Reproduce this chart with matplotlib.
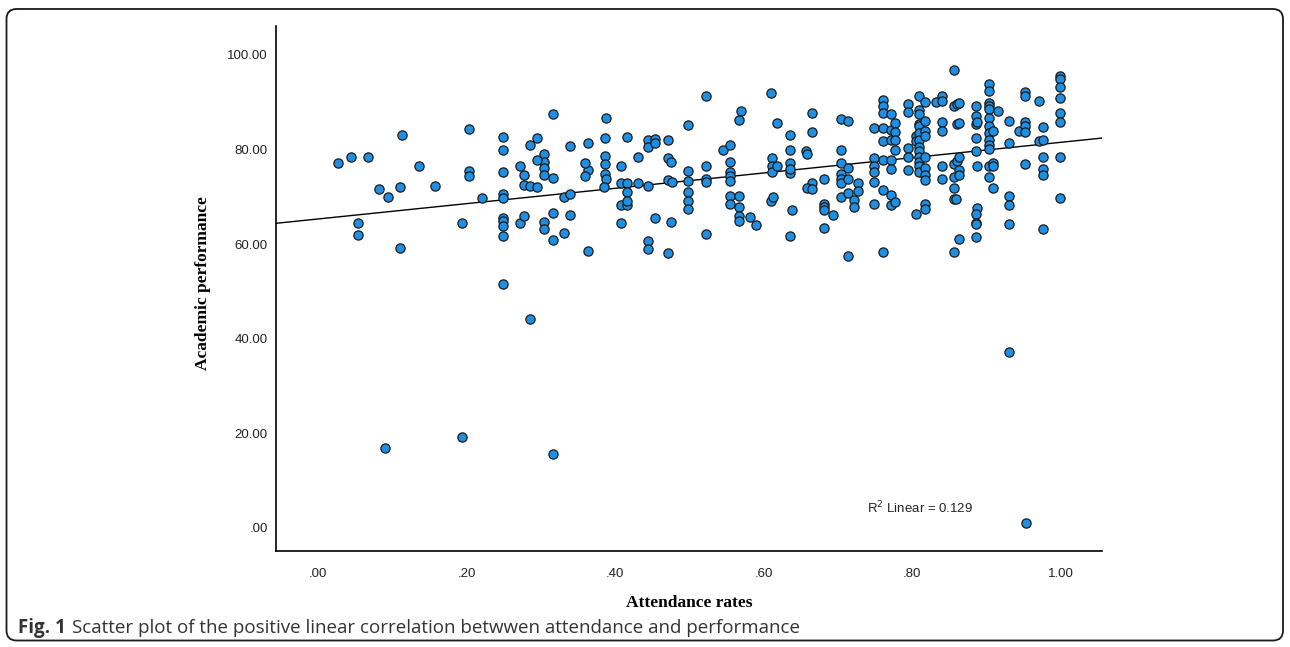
import numpy as np
import matplotlib
matplotlib.use("Agg")
import matplotlib.pyplot as plt
from matplotlib.patches import FancyBboxPatch

# ---------------- data ----------------
attendance = [
    0.027, 0.044, 0.067, 0.113, 0.136, 0.203, 0.203, 0.203,
    0.249, 0.249, 0.249, 0.285, 0.295, 0.317, 0.272, 0.277,
    0.304, 0.304, 0.304, 0.304, 0.295, 0.317, 0.340,
    0.363, 0.363, 0.360, 0.360,
    0.386, 0.388, 0.386, 0.386, 0.386, 0.388,
    0.408, 0.416, 0.408, 0.416, 0.431, 0.431,
    0.444, 0.444, 0.454, 0.454,
    0.471, 0.471, 0.475, 0.471, 0.477,
    0.499, 0.499, 0.499, 0.523, 0.523, 0.523, 0.523,
    0.570, 0.567, 0.545, 0.555, 0.555, 0.555, 0.555, 0.555,
    0.610, 0.618, 0.612, 0.612, 0.612, 0.618,
    0.636, 0.636, 0.636, 0.636, 0.636,
    0.666, 0.666, 0.657, 0.658, 0.666, 0.681,
    0.704, 0.704, 0.704, 0.704, 0.704, 0.704,
    0.714, 0.714, 0.714, 0.727,
    0.749, 0.749, 0.749, 0.749, 0.749,
    0.761, 0.761, 0.761, 0.761, 0.761, 0.761,
    0.772, 0.772, 0.772, 0.772, 0.772,
    0.777, 0.777, 0.777, 0.777,
    0.795, 0.795, 0.795, 0.795, 0.795, 0.805, 0.805,
    0.809, 0.809, 0.809, 0.809, 0.809, 0.809, 0.809, 0.809, 0.809, 0.809, 0.809, 0.809, 0.809,
    0.818, 0.818, 0.818, 0.818, 0.818, 0.818, 0.818, 0.818,
    0.832, 0.840, 0.840, 0.840, 0.840, 0.840, 0.840,
    0.857, 0.857, 0.857, 0.857, 0.861, 0.861, 0.861, 0.863, 0.863, 0.863, 0.863, 0.863,
    0.886, 0.886, 0.886, 0.886, 0.886, 0.888, 0.888,
    0.904, 0.904, 0.904, 0.904, 0.904, 0.904, 0.904, 0.904, 0.904, 0.904, 0.904, 0.904, 0.904,
    0.909, 0.909, 0.909, 0.916, 0.931, 0.931,
    0.944, 0.952, 0.952, 0.952, 0.952, 0.952, 0.952,
    0.971, 0.971, 0.976, 0.976, 0.976, 0.976, 0.976,
    1.0, 1.0, 1.0, 1.0, 1.0, 1.0, 1.0,
    # lower band
    0.082, 0.094, 0.110, 0.158, 0.054, 0.054, 0.110, 0.194, 0.221,
    0.249, 0.249, 0.249, 0.249, 0.249, 0.249, 0.249,
    0.277, 0.285, 0.295, 0.272, 0.277, 0.304, 0.304, 0.317, 0.317,
    0.332, 0.332, 0.339, 0.339, 0.363, 0.385,
    0.408, 0.408, 0.416, 0.416, 0.416,
    0.444, 0.444, 0.444, 0.454, 0.471, 0.475, 0.285,
    0.499, 0.499, 0.499, 0.522,
    0.555, 0.555, 0.567, 0.567, 0.567, 0.567, 0.582, 0.590,
    0.610, 0.613, 0.638, 0.636, 0.658, 0.666,
    0.681, 0.681, 0.681, 0.681, 0.694, 0.704, 0.714,
    0.722, 0.722, 0.727, 0.714, 0.749,
    0.761, 0.761, 0.772, 0.772, 0.777,
    0.857, 0.857, 0.857, 0.860, 0.863, 0.909,
    0.818, 0.818, 0.805,
    0.888, 0.886, 0.886, 0.886, 0.886,
    0.931, 0.931, 0.931, 1.0, 0.976,
    0.090, 0.194, 0.317, 0.953, 0.931,
]
performance = [
    77.2, 78.4, 78.5, 83.1, 76.5, 84.4, 75.5, 74.3,
    82.7, 79.9, 75.3, 81.0, 82.5, 87.5, 76.6, 74.5,
    79.1, 77.4, 76.0, 74.5, 77.7, 74.0, 80.8,
    81.3, 75.7, 77.1, 74.3,
    82.4, 86.7, 78.6, 76.9, 74.8, 73.7,
    76.5, 82.7, 73.0, 72.9, 78.4, 73.0,
    82.0, 80.6, 82.2, 81.3,
    81.9, 78.2, 77.4, 73.6, 73.2,
    85.2, 75.5, 73.4, 91.3, 76.4, 73.8, 73.1,
    88.2, 86.3, 79.9, 80.9, 77.3, 75.3, 74.3, 73.4,
    91.9, 85.6, 78.2, 76.4, 75.3, 76.4,
    83.1, 79.9, 77.1, 75.0, 75.8,
    87.7, 83.6, 79.6, 79.1, 73.0, 73.8,
    86.4, 79.9, 77.1, 74.8, 73.7, 73.0,
    86.0, 76.0, 73.7, 72.9,
    84.5, 78.2, 76.4, 75.3, 73.2,
    90.5, 89.1, 87.7, 84.5, 81.8, 77.8,
    87.5, 84.1, 81.9, 77.8, 75.9,
    85.6, 83.6, 81.9, 79.8,
    89.6, 87.9, 80.3, 78.5, 75.7, 82.9, 81.7,
    91.2, 88.4, 87.5, 85.4, 85.0, 83.4, 82.0, 80.5, 79.6, 78.5, 77.4, 76.4, 75.3,
    90.1, 86.1, 84.0, 82.9, 78.4, 76.0, 74.6, 73.6,
    90.0, 91.2, 90.3, 85.9, 84.0, 76.4, 73.8,
    96.8, 89.2, 77.0, 74.1, 89.6, 85.4, 77.6, 89.9, 85.6, 78.4, 75.7, 74.6,
    89.1, 87.0, 85.4, 82.4, 79.7, 85.7, 76.4,
    93.8, 92.4, 89.9, 89.1, 88.5, 86.6, 85.0, 83.4, 81.9, 81.0, 80.2, 76.4, 74.1,
    83.8, 77.1, 76.4, 88.2, 86.1, 81.3,
    83.8, 92.2, 91.4, 85.9, 85.0, 83.6, 77.0,
    90.2, 81.7, 84.7, 81.9, 78.5, 75.9, 74.5,
    95.6, 94.9, 93.1, 90.8, 87.7, 85.8, 78.4,
    # lower band
    71.7, 70.0, 72.0, 72.3, 64.4, 61.9, 59.1, 64.4, 69.7,
    70.5, 69.7, 65.6, 64.8, 63.9, 61.7, 51.6,
    72.5, 72.2, 72.0, 64.5, 66.0, 64.6, 63.2, 66.5, 60.9,
    70.0, 62.3, 70.6, 66.2, 58.5, 72.0,
    68.3, 64.4, 71.0, 68.3, 69.0,
    72.3, 60.7, 58.9, 65.5, 58.2, 64.6, 44.2,
    71.0, 69.0, 67.4, 62.1,
    70.2, 68.4, 70.2, 67.9, 66.0, 64.8, 65.8, 64.0,
    69.1, 70.0, 67.1, 61.6, 71.8, 71.6,
    68.4, 67.9, 67.2, 63.4, 66.1, 70.0, 70.8,
    69.3, 67.9, 71.2, 57.4, 68.4,
    71.5, 58.3, 70.3, 68.3, 68.9,
    71.9, 69.5, 58.4, 69.5, 61.0, 71.9,
    68.5, 67.4, 66.3,
    67.6, 66.4, 64.4, 64.2, 61.5,
    70.2, 68.3, 64.3, 69.8, 63.2,
    16.8, 19.3, 15.7, 1.0, 37.2,
]

fit_intercept = 65.3
fit_slope = 16.2
r2_text = "R$^2$ Linear = 0.129"

x_ticks = [0.0, 0.2, 0.4, 0.6, 0.8, 1.0]
x_ticklabels = [".00", ".20", ".40", ".60", ".80", "1.00"]
y_ticks = [0, 20, 40, 60, 80, 100]
y_ticklabels = [".00", "20.00", "40.00", "60.00", "80.00", "100.00"]

x_label = "Attendance rates"
y_label = "Academic performance"
caption_bold = "Fig. 1"
caption_rest = "Scatter plot of the positive linear correlation betwwen attendance and performance"

# ---------------- figure ----------------
W, H = 1290, 647
fig = plt.figure(figsize=(W / 100, H / 100), dpi=100)
fig.patch.set_facecolor("white")

# rounded frame around the whole figure (pixel coords)
frame = FancyBboxPatch((6.5, 6.5), W - 13.5, H - 15.5,
                       boxstyle="round,pad=0,rounding_size=10",
                       transform=None, fill=False, edgecolor="#1a1a1a",
                       linewidth=1.3, zorder=0)
fig.patches.append(frame)

L, R, T, B = 276, 1102, 26, 551
ax = fig.add_axes([L / W, 1 - B / H, (R - L) / W, (B - T) / H])

ax.scatter(attendance, performance, s=44, facecolor="#1E8FE3",
           edgecolor="#1a1a1a", linewidths=0.9, zorder=3)
ax.axline((0, fit_intercept), slope=fit_slope, color="black",
          linewidth=1.0, zorder=2)

ax.set_xlim(-0.0566, 1.056)
ax.set_ylim(-4.9, 106.1)
ax.set_xticks(x_ticks)
ax.set_xticklabels(x_ticklabels)
ax.set_yticks(y_ticks)
ax.set_yticklabels(y_ticklabels)
ax.tick_params(axis="both", length=0, labelsize=9.5, colors="#222222")
ax.tick_params(axis="x", pad=12)
ax.tick_params(axis="y", pad=6)
for lab in ax.get_xticklabels() + ax.get_yticklabels():
    lab.set_fontfamily("Liberation Sans")

for side in ("top", "right"):
    ax.spines[side].set_visible(False)
for side in ("left", "bottom"):
    ax.spines[side].set_linewidth(1.2)
    ax.spines[side].set_color("black")

ax.text(0.739, 4.2, r2_text, fontsize=9.5, family="Liberation Sans",
        va="center", ha="left", color="#222222")

ax.set_xlabel(x_label, fontsize=12.5, fontweight="bold",
              family="Liberation Serif")
ax.xaxis.label.set_va("center")
ax.xaxis.set_label_coords(0.5, (B - 603) / (B - T))
ax.set_ylabel(y_label, fontsize=12.5, fontweight="bold",
              family="Liberation Serif")
ax.yaxis.label.set_va("center")
ax.yaxis.set_label_coords((203 - L) / (R - L), (B - 283) / (B - T))

# caption
cap_y = 1 - 628 / H
t1 = fig.text(18 / W, cap_y, caption_bold, fontsize=13.5, fontweight="bold",
              family="Open Sans", va="center", ha="left", color="#333333")
fig.canvas.draw()
bb = t1.get_window_extent()
fig.text((bb.x1 + 6) / W, cap_y, caption_rest, fontsize=13.5,
         family="Open Sans", va="center", ha="left", color="#333333")

fig.savefig("out.png", dpi=100)
